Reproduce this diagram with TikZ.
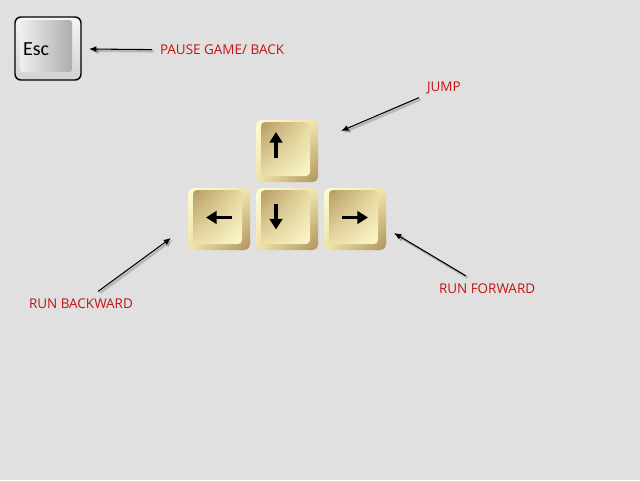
\documentclass[tikz,border=0pt]{standalone}
\usepackage{fontspec}
\setmainfont{Open Sans}
\newfontfamily\keyfont{Carlito}
\usetikzlibrary{positioning,calc,arrows.meta,shadings}
\definecolor{PadGray}{RGB}{224,224,224}
\definecolor{LabelRed}{RGB}{196,18,18}
\definecolor{KeyCream}{RGB}{255,253,212}
\definecolor{KeyTan}{RGB}{240,228,172}
\definecolor{KeyBrown}{RGB}{174,146,88}
\definecolor{EscLight}{RGB}{246,246,246}
\definecolor{EscMid}{RGB}{210,210,210}
\definecolor{EscDark}{RGB}{162,162,162}
\tikzset{%
  gold key/.style={minimum size=46.5pt, inner sep=0pt, outer sep=0pt, rounded corners=4pt,
    upper left=KeyCream, upper right=KeyTan, lower left=KeyTan, lower right=KeyBrown,
    path picture={\shade[rounded corners=3pt,
        upper left=KeyBrown, upper right=KeyTan, lower left=KeyTan, lower right=KeyCream]
      ([shift={(3.75pt,-1.5pt)}]path picture bounding box.north west) rectangle
      ([shift={(-6pt,4.5pt)}]path picture bounding box.south east);}},
  esc key/.style={draw=black, line width=1.1pt, minimum width=49.5pt, minimum height=47.25pt,
    inner sep=0pt, rounded corners=4.5pt,
    upper left=EscLight, upper right=EscLight, lower left=EscMid, lower right=EscMid,
    path picture={\shade[rounded corners=2pt, left color=EscLight, right color=EscDark]
      ([shift={(3.75pt,-2.25pt)}]path picture bounding box.north west) rectangle
      ([shift={(-6.75pt,6pt)}]path picture bounding box.south east);}},
  key glyph/.style={line width=2.5pt, -{Triangle[length=8pt,width=9.5pt]}},
  key caption/.style={anchor=west, inner sep=0pt, font=\keyfont\fontsize{15}{17}\selectfont},
  key label/.style={anchor=west, text=LabelRed, inner sep=0pt, outer sep=6pt,
    text height=7pt, text depth=0pt, font=\fontsize{10.1}{12}\selectfont},
  callout/.style={line width=0.8pt, -{Latex[length=5.5pt,width=4.5pt]},
    preaction={draw=black, opacity=0.18, line width=1.8pt, -{Latex[length=6pt,width=5.5pt]},
      transform canvas={shift={(1.3pt,-1.3pt)}}}}
}

\begin{document}
\begin{tikzpicture}[x=0.75pt,y=0.75pt,node distance=4.5pt]
    % Backdrop.
    \fill[PadGray] (0,0) rectangle (640,480);
    \useasboundingbox (0,0) rectangle (640,480);
    % Esc key.
    \node[esc key] (esckey) at (48,431.5) {};
    \node[key caption] (esctext) at ($(esckey.west)+(8.5,-0.7)$) {Esc};
    % Arrow keys.
    \node[gold key] (upkey) at (287,329) {};
    \node[gold key, below=of upkey] (downkey) {};
    \node[gold key, left=of downkey] (leftkey) {};
    \node[gold key, right=of downkey] (rightkey) {};
    \draw[key glyph] ($(upkey)+(-11,-7)$) -- ($(upkey)+(-11,19)$);
    \draw[key glyph] ($(downkey)+(-11,15.5)$) -- ($(downkey)+(-11,-10.5)$);
    \draw[key glyph] ($(leftkey)+(13,1.5)$) -- ($(leftkey)+(-13,1.5)$);
    \draw[key glyph] ($(rightkey)+(-13,1.5)$) -- ($(rightkey)+(13,1.5)$);
    % Labels and their tips.
    \node[key label] (pause) at (152,429.7) {PAUSE GAME/ BACK};
    \node[key label] (jump) at (419,393) {JUMP};
    \node[key label] (back) at (21,176) {RUN BACKWARD};
    \node[key label] (fwd) at (431,191.5) {RUN FORWARD};
    \coordinate (esctip) at (89,431);
    \coordinate (jumptip) at (341,349);
    \coordinate (backtip) at (171,242);
    \coordinate (fwdtip) at (394,247);
    \draw[callout] (pause) -- (esctip);
    \draw[callout] (jump) -- (jumptip);
    \draw[callout] (back) -- (backtip);
    \draw[callout] (fwd) -- (fwdtip);
\end{tikzpicture}
\end{document}
